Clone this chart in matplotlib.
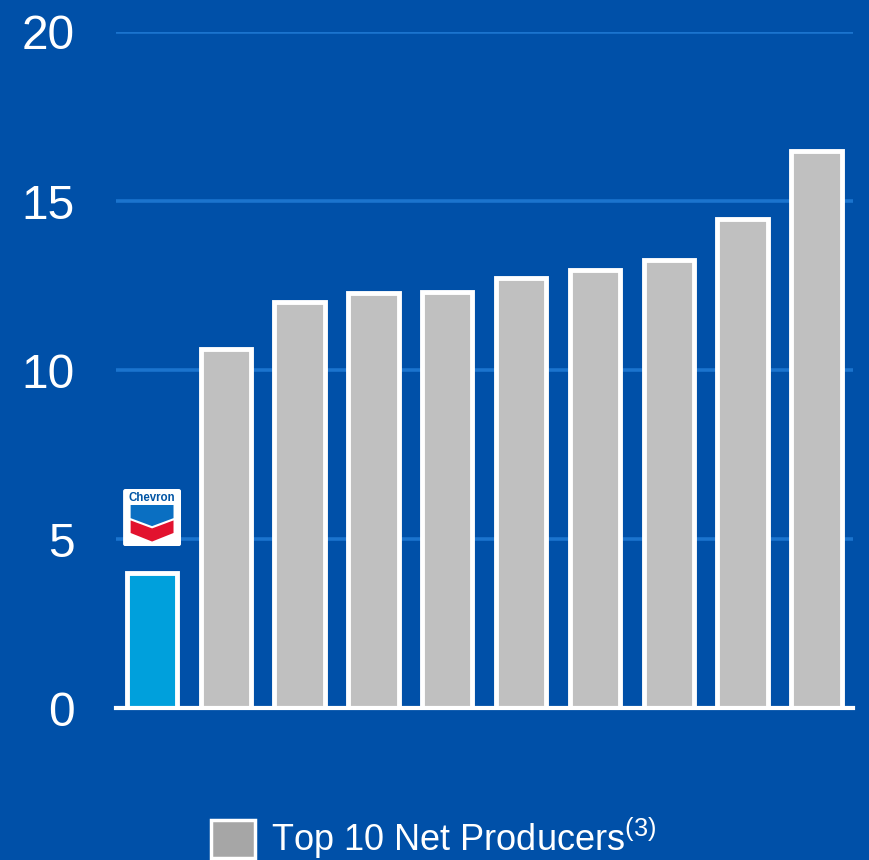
import matplotlib.pyplot as plt
from matplotlib.patches import Patch, Polygon, FancyBboxPatch

# net producer values, Chevron first then the top 10
values = [4.0, 10.62, 12.0, 12.28, 12.3, 12.72, 12.96, 13.25, 14.47, 16.48]
bar_colors = ['#00A0DC'] + ['#C0C0C0'] * 9
yticks = [0, 5, 10, 15, 20]
legend_label = 'Top 10 Net Producers$^{(3)}$'

bg = '#0050A8'
grid_color = '#1B74CE'

plt.rcParams['font.family'] = ['Liberation Sans', 'DejaVu Sans']
plt.rcParams['mathtext.fontset'] = 'custom'
plt.rcParams['mathtext.rm'] = 'Liberation Sans'
plt.rcParams['mathtext.it'] = 'Liberation Sans'

fig = plt.figure(figsize=(8.7, 8.6), dpi=100, facecolor=bg)
ax = fig.add_axes([0.133, 0.1767, 0.847, 0.7861], facecolor=bg)

x = list(range(len(values)))
ax.bar(x, values, width=0.68, color=bar_colors, edgecolor='white', linewidth=3.5, zorder=3)

ax.set_xlim(-0.49, 9.49)
ax.set_ylim(0, 20)
ax.set_yticks(yticks)
ax.set_xticks([])
ax.yaxis.grid(True, color=grid_color, linewidth=2.6, zorder=0)
ax.set_axisbelow(True)
ax.tick_params(axis='y', length=0, pad=29.5, labelsize=34.5, labelcolor='white')
for s in ['top', 'right', 'left']:
    ax.spines[s].set_visible(False)
ax.spines['bottom'].set_color('white')
ax.spines['bottom'].set_linewidth(3)
ax.spines['bottom'].set_zorder(4)

# Chevron logo above the first bar
logo = ax.inset_axes([-0.39, 4.79, 0.785, 1.69], transform=ax.transData)
logo.set_xlim(0, 1)
logo.set_ylim(0, 1)
logo.axis('off')
logo.add_patch(FancyBboxPatch((0.0, 0.0), 1.0, 1.0, boxstyle='round,pad=0,rounding_size=0.04',
                              facecolor='white', edgecolor='none'))
logo.text(0.5, 0.84, 'Chevron', ha='center', va='center', fontsize=8.3,
          fontweight='bold', color='#0054A4')
logo.add_patch(Polygon([(0.13, 0.72), (0.87, 0.72), (0.87, 0.49), (0.5, 0.35), (0.13, 0.49)],
                       facecolor='#0A6FC2', edgecolor='none'))
logo.add_patch(Polygon([(0.13, 0.45), (0.5, 0.31), (0.87, 0.45), (0.87, 0.23), (0.5, 0.08), (0.13, 0.23)],
                       facecolor='#E2122E', edgecolor='none'))

handle = Patch(facecolor='#A6A6A6', edgecolor='white', linewidth=2.5)
fig.legend([handle], [legend_label], loc='center left', bbox_to_anchor=(0.242, 0.025),
           frameon=False, fontsize=26, labelcolor='white', handlelength=1.22,
           handleheight=1.22, handletextpad=0.45, borderpad=0, borderaxespad=0)

fig.savefig('out.png', dpi=100, facecolor=bg)
